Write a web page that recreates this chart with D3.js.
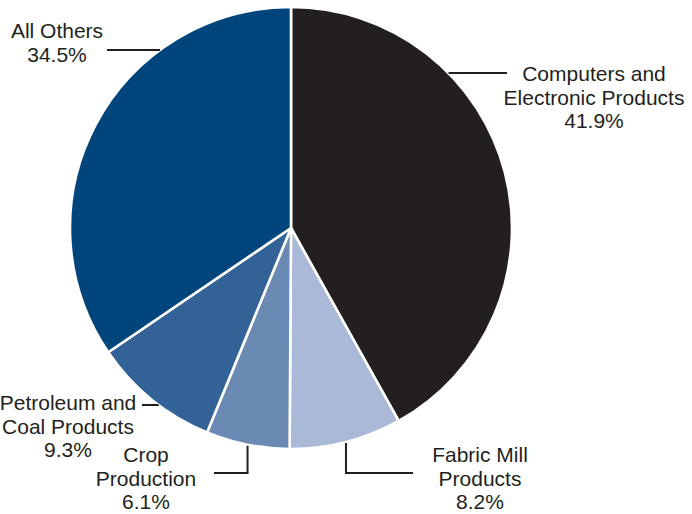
<!DOCTYPE html>
<html>
<head>
<meta charset="utf-8">
<script src="https://cdn.jsdelivr.net/npm/d3@7"></script>
<style>
  html, body { margin: 0; padding: 0; background: #ffffff; }
  svg { display: block; }
  text { font-family: "Liberation Sans", Arial, Helvetica, sans-serif; fill: #231f20; }
</style>
</head>
<body>
<svg id="chart" width="692" height="514"></svg>
<script>
// Share of exports by product group (percent)
const categories = [
  "Computers and Electronic Products",
  "Fabric Mill Products",
  "Crop Production",
  "Petroleum and Coal Products",
  "All Others"
];
const shares = [41.9, 8.2, 6.1, 9.3, 34.5];
const labelLines = [
  ["Computers and", "Electronic Products"],
  ["Fabric Mill", "Products"],
  ["Crop", "Production"],
  ["Petroleum and", "Coal Products"],
  ["All Others"]
];
const colors = ["#231f20", "#aab9d7", "#6a89b3", "#336297", "#00457c"];

// Geometry
const W = 692, H = 514;
const cx = 291, cy = 228, r = 221;
const fontSize = 21, lineH = 23.5;

// Label placement: text centre, first baseline, and leader style.
// "h"  : horizontal leader at height y from the rim to x2
// "elbow": vertical leader from the slice's mid-arc point down to y, then to x2
const placement = [
  { tx: 594, ty: 81,  kind: "h",     y: 73,  x2: 507 },
  { tx: 480, ty: 462, kind: "elbow", y: 473, x2: 413 },
  { tx: 146, ty: 462, kind: "elbow", y: 473, x2: 214 },
  { tx: 68,  ty: 410, kind: "h",     y: 405, x2: 142 },
  { tx: 57,  ty: 38,  kind: "h",     y: 50,  x2: 107 }
];

const svg = d3.select("#chart");
const g = svg.append("g").attr("transform", `translate(${cx},${cy})`);

const pie = d3.pie().sort(null).value(d => d);
const arcs = pie(shares);
const arc = d3.arc().innerRadius(0).outerRadius(r);

g.selectAll("path.slice")
  .data(arcs)
  .join("path")
  .attr("class", "slice")
  .attr("d", arc)
  .attr("fill", (d, i) => colors[i])
  .attr("stroke", "#ffffff")
  .attr("stroke-width", 2.6)
  .attr("stroke-linejoin", "round");

// Leader lines
const fmt = d3.format(".1f");
const leaders = svg.append("g")
  .attr("fill", "none")
  .attr("stroke", "#231f20")
  .attr("stroke-width", 2);

arcs.forEach((a, i) => {
  const p = placement[i];
  if (p.kind === "h") {
    const dy = p.y - cy;
    const dx = Math.sqrt(r * r - dy * dy);
    const xr = p.x2 < cx ? cx - dx : cx + dx;
    leaders.append("path").attr("d", `M${xr},${p.y}H${p.x2}`);
  } else {
    const mid = (a.startAngle + a.endAngle) / 2;
    const xr = cx + r * Math.sin(mid);
    const yr = cy - r * Math.cos(mid);
    leaders.append("path").attr("d", `M${xr},${yr + 1}V${p.y}H${p.x2}`);
  }
});

// Category labels with their share
const labels = svg.append("g").attr("font-size", fontSize).attr("text-anchor", "middle");
arcs.forEach((a, i) => {
  const p = placement[i];
  const lines = labelLines[i].concat([fmt(shares[i]) + "%"]);
  const t = labels.append("text").attr("x", p.tx).attr("y", p.ty);
  lines.forEach((s, k) => {
    t.append("tspan").attr("x", p.tx).attr("dy", k === 0 ? 0 : lineH).text(s);
  });
});
</script>
</body>
</html>
